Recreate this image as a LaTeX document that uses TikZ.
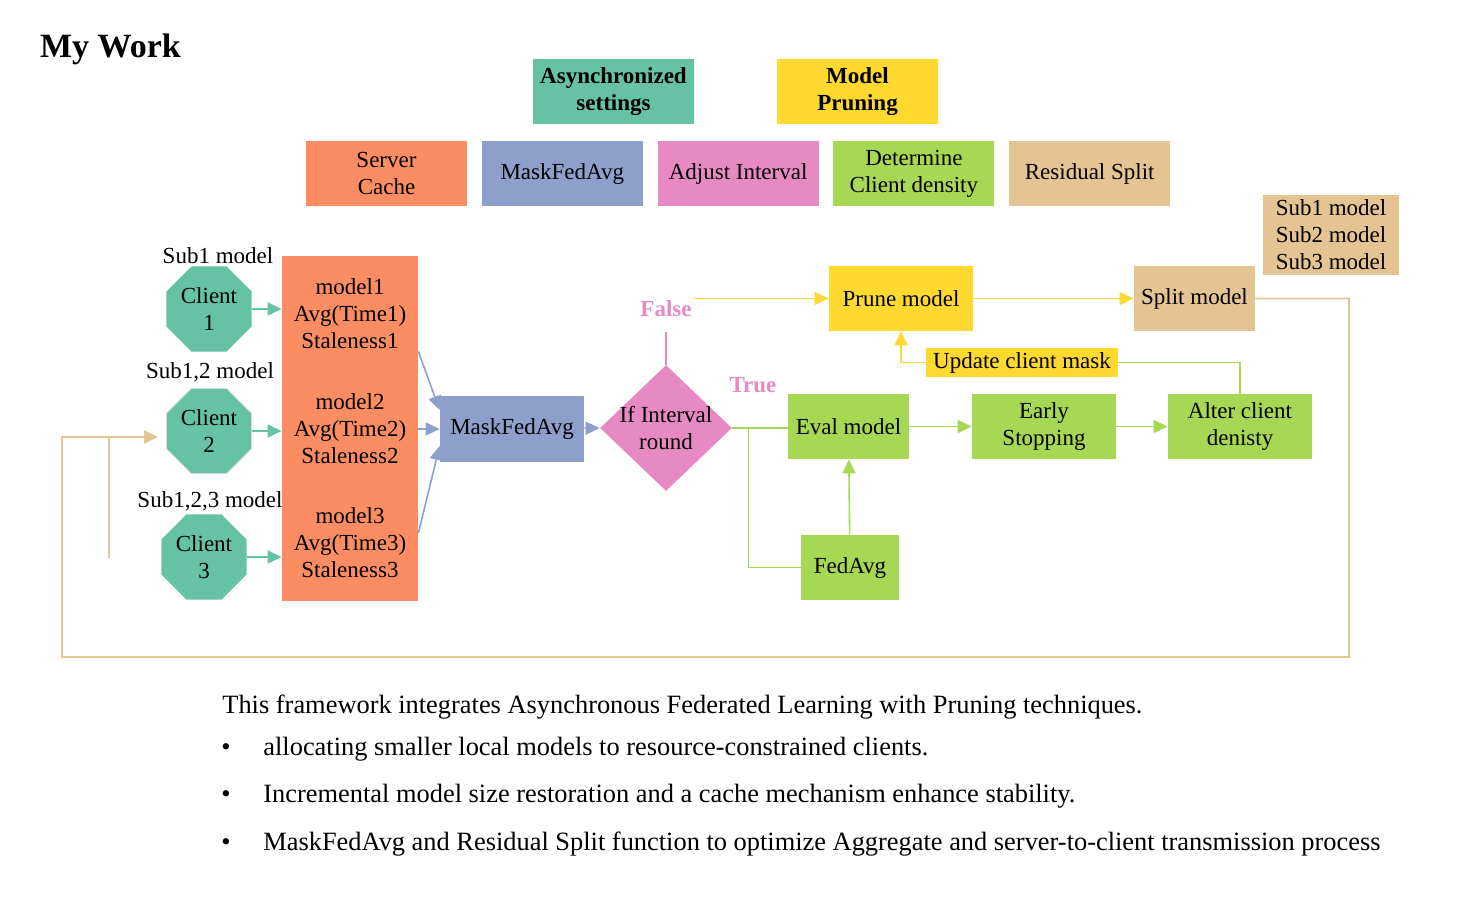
\documentclass[tikz,border=0pt]{standalone}
\usepackage{fontspec}
\setmainfont{Liberation Serif}
\usetikzlibrary{positioning,shapes.geometric,arrows.meta}
\definecolor{tealc}{HTML}{66C2A5}
\definecolor{orangec}{HTML}{FC8D62}
\definecolor{bluec}{HTML}{8DA0CB}
\definecolor{pinkc}{HTML}{E78AC3}
\definecolor{greenc}{HTML}{A6D854}
\definecolor{yellowc}{HTML}{FFD92F}
\definecolor{tanc}{HTML}{E5C494}
\tikzset{
  box/.style={rectangle, minimum width=80.5pt, minimum height=32.5pt, inner sep=1pt, align=center, font=\fontsize{11.5}{13.5}\selectfont},
  head/.style={box, font=\fontsize{11.5}{13.5}\selectfont\bfseries},
  txt/.style={inner sep=1pt, align=center, font=\fontsize{11.5}{13.5}\selectfont},
  flag/.style={txt, text=pinkc, font=\fontsize{11.5}{13.5}\selectfont\bfseries},
  client/.style={regular polygon, regular polygon sides=8, minimum size=42pt, inner sep=0pt, fill=tealc, txt},
  decision/.style={diamond, minimum width=66pt, minimum height=63pt, inner sep=0pt, fill=pinkc},
  line/.style={line width=0.8pt},
  arr/.style={line, -{Triangle[length=7pt,width=6.5pt]}},
  body/.style={anchor=base west, inner sep=0pt, font=\fontsize{13.2}{16}\selectfont},
}
\begin{document}
\begin{tikzpicture}[x=0.5pt, y=-0.5pt]
  \useasboundingbox (0,0) rectangle (1470,896);

  \node [anchor=west, font=\fontsize{17}{20}\selectfont\bfseries] (title) at (33,49) {My Work};

  % legend
  \node [head, fill=tealc] (Async) at (613.5,91.5) {Asynchronized\\settings};
  \node [head, fill=yellowc] (Pruning) at (857.5,91.5) {Model\\Pruning};
  \node [box, fill=orangec] (Server) at (386.5,173.5) {Server\\Cache};
  \node [box, fill=bluec, right=7pt of Server] (MaskLeg) {MaskFedAvg};
  \node [box, fill=pinkc, right=7pt of MaskLeg] (Adjust) {Adjust Interval};
  \node [box, fill=greenc, right=7pt of Adjust] (Density) {Determine\\Client density};
  \node [box, fill=tanc, right=7pt of Density] (Residual) {Residual Split};

  % clients and cache
  \node [rectangle, fill=orangec, minimum width=68pt, minimum height=172.5pt] (Cache) at (350,428.5) {};
  \node [txt] (m1) at (350,314) {model1\\Avg(Time1)\\Staleness1};
  \node [txt] (m2) at (350,428.5) {model2\\Avg(Time2)\\Staleness2};
  \node [txt] (m3) at (350,543) {model3\\Avg(Time3)\\Staleness3};

  \node [client] (C1) at (209,309) {Client\\1};
  \node [client, draw=black!15] (C2) at (209,431) {Client\\2};
  \node [client] (C3) at (204,557) {Client\\3};
  \node [txt] (s1) at (218,256) {Sub1 model};
  \node [txt] (s2) at (210,372) {Sub1,2 model};
  \node [txt] (s3) at (210,501) {Sub1,2,3 model};

  \draw [arr, tealc] (C1) -- (Cache.west |- C1);
  \draw [arr, tealc] (C2) -- (Cache.west |- C2);
  \draw [arr, tealc] (C3) -- (Cache.west |- C3);

  % server side
  \node [box, fill=bluec, minimum width=72pt, minimum height=33pt] (MFA) at (512,429) {MaskFedAvg};
  \draw [arr, bluec] (Cache.east |- m1.south) -- ([yshift=9.5pt]MFA.west);
  \draw [arr, bluec] (Cache.east |- MFA) -- (MFA.west);
  \draw [arr, bluec] ([yshift=5pt]Cache.east |- m3) -- ([yshift=-8.5pt]MFA.west);

  \node [decision] (If) at (666,428) {};
  \node [txt] (Iftxt) at (If) {If Interval\\round};
  \draw [arr, bluec] (MFA) -- (If.west);

  \node [flag] (False) at (666,309) {False};
  \node [flag] (True) at (753,385) {True};
  \draw [line, pinkc, shorten >=6pt] (If.north) -- (False.south);

  \node [box, fill=yellowc, minimum width=72pt] (Prune) at (901,298.5) {Prune model};
  \node [box, fill=tanc, minimum width=60.5pt] (Split) at (1194.5,298.5) {Split model};
  \node [txt, fill=tanc, minimum width=68pt, minimum height=40pt] (Subs) at (1331,235) {Sub1 model\\Sub2 model\\Sub3 model};
  \node [box, fill=yellowc, minimum width=96pt, minimum height=14.5pt] (Update) at (1022,362.5) {Update client mask};

  \node [box, fill=greenc, minimum width=60.5pt] (Eval) at (848.5,426.5) {Eval model};
  \node [box, fill=greenc, minimum width=49pt] (FedAvg) at (850,567.5) {FedAvg};
  \node [box, fill=greenc, minimum width=72pt] (Early) at (1044,426.5) {Early\\Stopping};
  \node [box, fill=greenc, minimum width=72pt] (Alter) at (1240,426.5) {Alter client\\denisty};

  \draw [arr, yellowc] (False.east |- Prune) -- (Prune);
  \draw [arr, yellowc] (Prune) -- (Split);
  \draw [arr, yellowc] (Update.west) -| (Prune.south);

  \coordinate (br) at ([xshift=8pt]If.east);
  \draw [line, greenc] (If.east) -- (Eval.west |- If.east);
  \draw [line, greenc] (br) |- (FedAvg.west);
  \draw [arr, greenc] (FedAvg) -- (Eval);
  \draw [arr, greenc] (Eval) -- (Early);
  \draw [arr, greenc] (Early) -- (Alter);
  \draw [line, greenc] (Alter.north) |- (Update.east);

  % back to the clients
  \coordinate (loopR) at (1349,657);
  \coordinate (loopL) at (62,437);
  \coordinate (stub) at (109,558);
  \draw [arr, tanc, shorten >=4pt] (Split.east) -| (loopR) -| (loopL) -- ([yshift=-3pt]C2.west);
  \draw [line, tanc] (stub |- loopL) -- (stub);

  % summary
  \node [body] (intro) at (222,713) {This framework integrates Asynchronous Federated Learning with Pruning techniques.};
  \foreach \y/\t [count=\i] in {755/allocating smaller local models to resource-constrained clients.,
      802/Incremental model size restoration and a cache mechanism enhance stability.,
      850/MaskFedAvg and Residual Split function to optimize Aggregate and server-to-client transmission process} {
    \node [body] (dot\i) at (221,\y) {\textbullet};
    \node [body] (item\i) at (263,\y) {\t};
  }
\end{tikzpicture}
\end{document}
